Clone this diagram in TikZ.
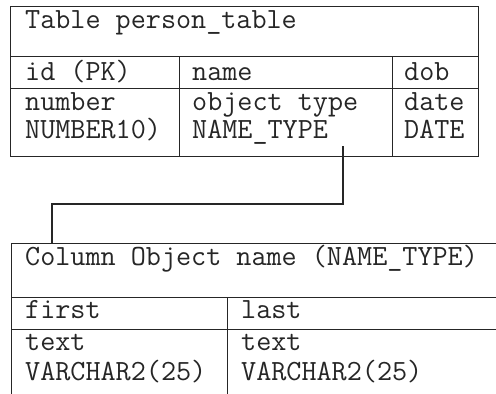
\documentclass[tikz,border=0pt]{standalone}
\usepackage{fontspec}
\begin{document}
\begin{tikzpicture}[x=1pt,y=-1pt,
  cell/.style={draw=black!85, line width=1.1pt, anchor=north west, inner sep=0pt, minimum width=#1},
  lbl/.style={anchor=base west, inner sep=0pt, text=black!85, font=\ttfamily\fontsize{29.3}{34}\selectfont},
  link/.style={draw=black!85, line width=1.1pt}]
\clip (0,0) rectangle (496,394);
\fill[white] (0,0) rectangle (496,394);

% person_table
\node[cell=468pt, minimum height=50pt] (ttitle) at (10,6) {};
\node[cell=169pt, minimum height=32pt] (hid)   at (10,56) {};
\node[cell=213pt, minimum height=32pt] (hname) at (179,56) {};
\node[cell=86pt,  minimum height=32pt] (hdob)  at (392,56) {};
\node[cell=169pt, minimum height=68pt] (did)   at (10,88) {};
\node[cell=213pt, minimum height=68pt] (dname) at (179,88) {};
\node[cell=86pt,  minimum height=68pt] (ddob)  at (392,88) {};

\node[lbl] at (25,28) {Table person\_table};
\node[lbl] at (25,80) {id (PK)};
\node[lbl] at (192,80) {name};
\node[lbl] at (404,80) {dob};
\node[lbl] at (25,110) {number};
\node[lbl] at (25,138) {NUMBER10)};
\node[lbl] at (192,110) {object type};
\node[lbl] at (192,138) {NAME\_TYPE};
\node[lbl] at (404,110) {date};
\node[lbl] at (404,138) {DATE};

% column object NAME_TYPE
\node[cell=560pt, minimum height=54pt] (otitle) at (11,243) {};
\node[cell=216pt, minimum height=32pt] (hfirst) at (11,297) {};
\node[cell=344pt, minimum height=32pt] (hlast)  at (227,297) {};
\node[cell=216pt, minimum height=90pt] (dfirst) at (11,329) {};
\node[cell=344pt, minimum height=90pt] (dlast)  at (227,329) {};

\node[lbl] at (25,265) {Column Object name (NAME\_TYPE)};
\node[lbl] at (25,318) {first};
\node[lbl] at (241,318) {last};
\node[lbl] at (25,350) {text};
\node[lbl] at (25,380) {VARCHAR2(25)};
\node[lbl] at (241,350) {text};
\node[lbl] at (241,380) {VARCHAR2(25)};

% link from the name column to its object type
\coordinate (src) at (343,146);
\coordinate (dst) at (52,243);
\draw[link] (src) -- (src |- 0,204) -- (dst |- 0,204) -- (dst);
\end{tikzpicture}
\end{document}
